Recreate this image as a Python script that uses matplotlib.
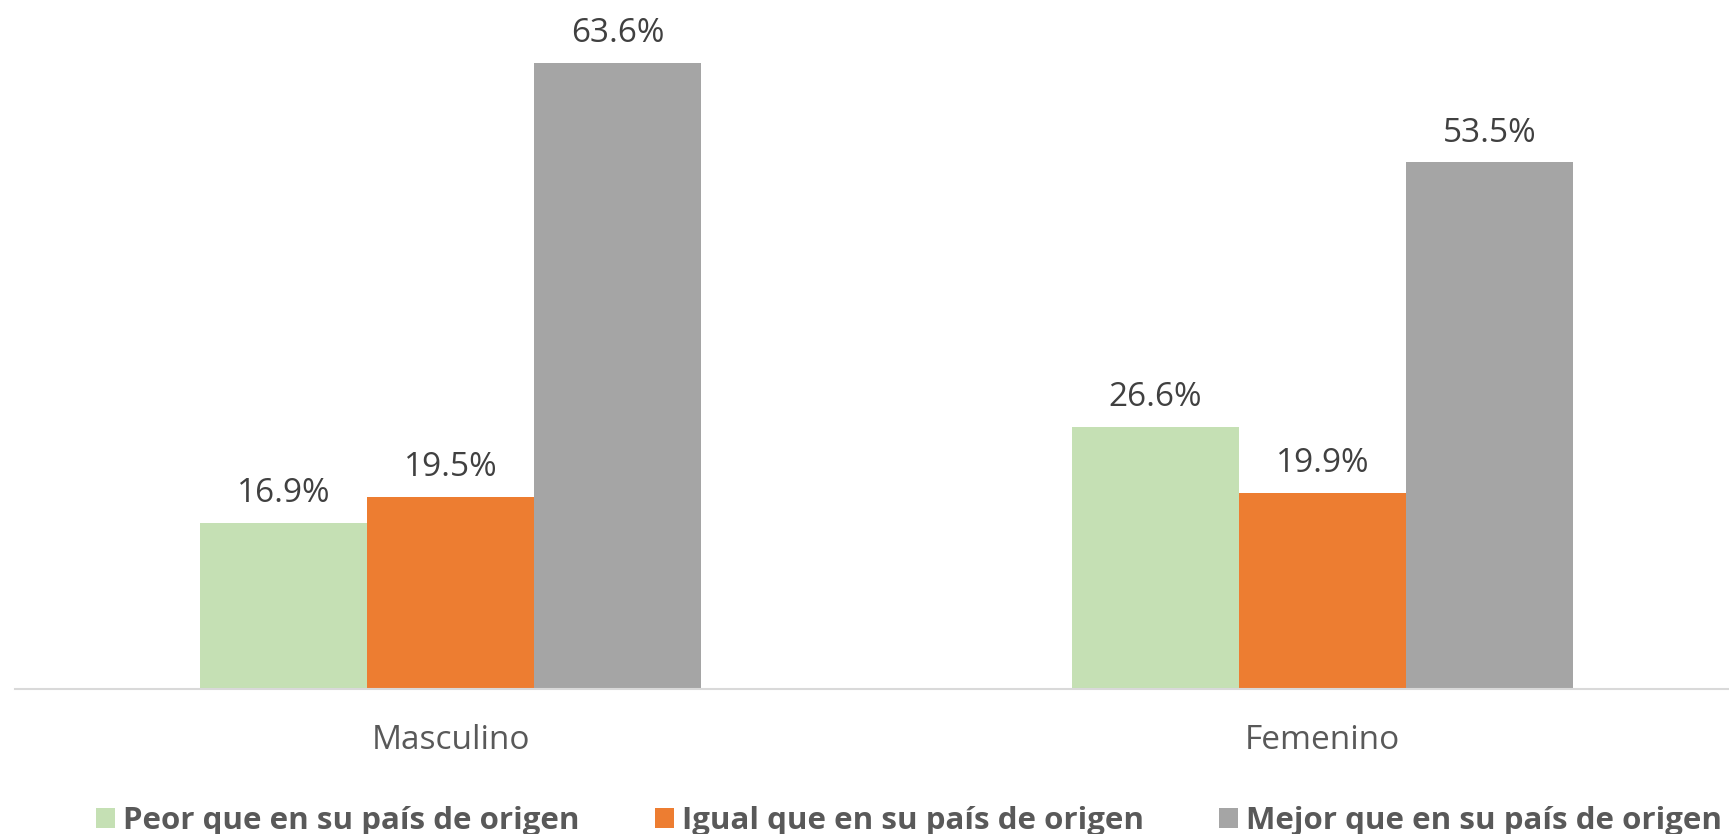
import matplotlib.pyplot as plt
from matplotlib.patches import Patch
import numpy as np

categorias = ["Masculino", "Femenino"]
series = ["Peor que en su país de origen", "Igual que en su país de origen", "Mejor que en su país de origen"]
peor = [16.9, 26.6]
igual = [19.5, 19.9]
mejor = [63.6, 53.5]
colores = ["#C5E0B4", "#ED7D31", "#A5A5A5"]

plt.rcParams['font.family'] = ['Open Sans', 'DejaVu Sans']

fig = plt.figure(figsize=(17.29, 8.34), dpi=100)
ax = fig.add_axes([15 / 1729, 145 / 834, 1743 / 1729, 689 / 834])

x = np.arange(len(categorias))
w = 0.1916
valores = [peor, igual, mejor]
for i, (vals, col) in enumerate(zip(valores, colores)):
	pos = x + (i - 1) * w
	ax.bar(pos, vals, width=w, color=col, edgecolor="none")
	for px, v in zip(pos, vals):
		ax.annotate("{:.1f}%".format(v), (px, v), xytext=(0, 15), textcoords="offset points",
			ha="center", va="baseline", fontsize=24, color="#404040")

ax.set_xlim(-0.5, 1.5)
ax.set_ylim(0, 70)
ax.set_yticks([])
ax.set_xticks(x)
ax.set_xticklabels(categorias, fontsize=24, color="#595959")
ax.tick_params(axis="x", length=0, pad=25)
for s in ["top", "right", "left"]:
	ax.spines[s].set_visible(False)
ax.spines["bottom"].set_color("#D9D9D9")
ax.spines["bottom"].set_linewidth(1.5)

handles = [Patch(facecolor=c, edgecolor="none") for c in colores]
fig.legend(handles, series, loc="center", bbox_to_anchor=(0.5257, 0.016), ncol=3,
	frameon=False, handlelength=0.62, handleheight=0.62, handletextpad=0.25,
	columnspacing=2.4, borderaxespad=0, borderpad=0,
	prop={"size": 22.5, "weight": "bold"}, labelcolor="#595959")

fig.savefig("out.png", dpi=100)
